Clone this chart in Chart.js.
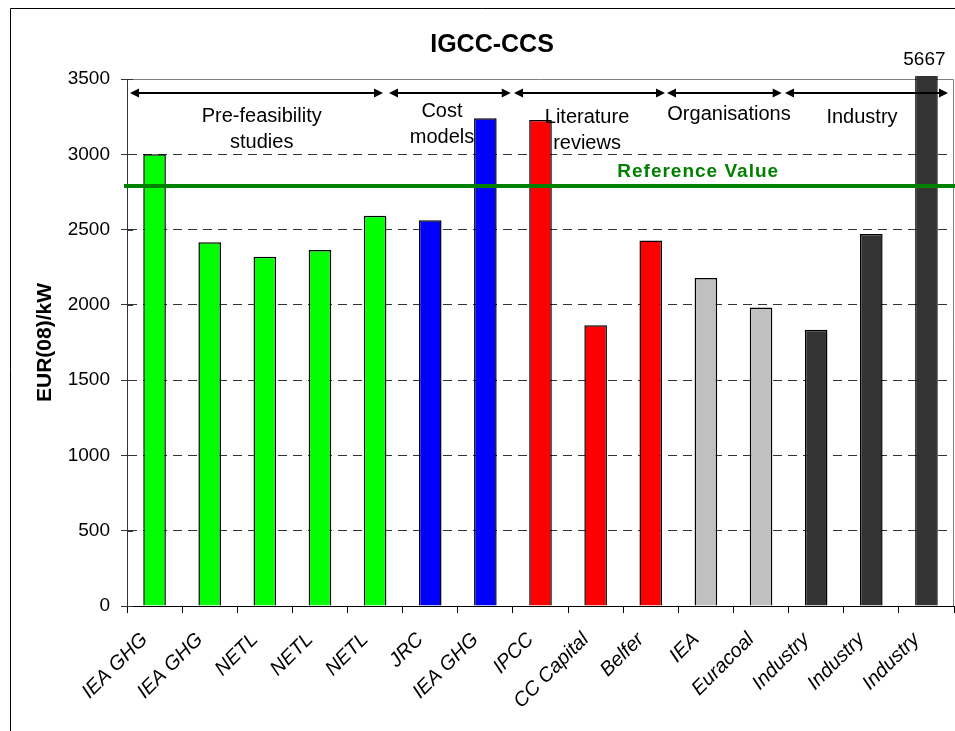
<!DOCTYPE html>
<html lang="en">
<head>
<meta charset="UTF-8">
<title>IGCC-CCS</title>
<script src="https://cdn.jsdelivr.net/npm/chart.js"></script>
<style>
  html, body { margin: 0; padding: 0; background: #fff; }
  #wrap { width: 955px; height: 731px; }
</style>
</head>
<body>
<div id="wrap"><canvas id="capexChart" width="955" height="731"></canvas></div>
<script>
const categories = ['IEA GHG', 'IEA GHG', 'NETL', 'NETL', 'NETL', 'JRC', 'IEA GHG', 'IPCC',
    'CC Capital', 'Belfer', 'IEA', 'Euracoal', 'Industry', 'Industry', 'Industry'];
const costs = [3000, 2415, 2320, 2365, 2592, 2562, 3240, 3228, 1865, 2427, 2178, 1982, 1834, 2470, 5667];
const sourceTypes = ['pre', 'pre', 'pre', 'pre', 'pre', 'model', 'model', 'lit', 'lit', 'lit',
    'org', 'org', 'ind', 'ind', 'ind'];
const referenceValue = 2790;
const yTicks = [0, 500, 1000, 1500, 2000, 2500, 3000, 3500];
const groupNames = [['Pre-feasibility', 'studies'], ['Cost', 'models'], ['Literature', 'reviews'],
    ['Organisations'], ['Industry']];

// colours per source type
const typeColors = { pre: '#00ff00', model: '#0000ff', lit: '#ff0000', org: '#c0c0c0', ind: '#333333' };

// where the group arrows and their captions sit (category index units / px below plot top)
const groupSpans = [[-0.446, 4.143], [4.252, 6.46], [6.519, 9.258], [9.295, 11.375], [11.435, 14.391]];
const groupLabelAt = [1.943, 5.213, 7.844, 10.419, 12.831];
const groupLabelTop = [37, 32, 38, 35, 38];
const refLabelAt = 9.86;

const FONT = '"Liberation Sans", Arial, sans-serif';

function arrowHead(ctx, x, y, dir) {
    ctx.beginPath();
    ctx.moveTo(x, y);
    ctx.lineTo(x - dir * 9, y - 4.5);
    ctx.lineTo(x - dir * 9, y + 4.5);
    ctx.closePath();
    ctx.fill();
}

const decorations = {
    id: 'decorations',
    beforeDatasetsDraw(chart) {
        const { ctx, chartArea } = chart;
        ctx.save();
        ctx.strokeStyle = '#808080';
        ctx.lineWidth = 1;
        ctx.beginPath();
        ctx.moveTo(chartArea.left, chartArea.top + 0.5);
        ctx.lineTo(chartArea.right - 0.5, chartArea.top + 0.5);
        ctx.lineTo(chartArea.right - 0.5, chartArea.bottom);
        ctx.stroke();
        // inner half of the y tick marks
        const y = chart.scales.y;
        ctx.strokeStyle = '#333';
        y.ticks.forEach(t => {
            const py = Math.round(y.getPixelForValue(t.value)) + 0.5;
            ctx.beginPath();
            ctx.moveTo(chartArea.left, py);
            ctx.lineTo(chartArea.left + 6, py);
            ctx.stroke();
        });
        ctx.restore();
    },
    afterDatasetsDraw(chart) {
        const { ctx, chartArea } = chart;
        const x = chart.scales.x, y = chart.scales.y;
        ctx.save();

        // reference value line
        const ry = y.getPixelForValue(referenceValue);
        ctx.strokeStyle = '#008000';
        ctx.lineWidth = 4;
        ctx.beginPath();
        ctx.moveTo(chartArea.left - 3, ry);
        ctx.lineTo(chart.width, ry);
        ctx.stroke();
        ctx.fillStyle = '#008000';
        ctx.font = 'bold 19px ' + FONT;
        ctx.letterSpacing = '1px';
        ctx.textAlign = 'center';
        ctx.textBaseline = 'middle';
        ctx.fillText('Reference Value', x.getPixelForValue(refLabelAt), ry - 14);
        ctx.letterSpacing = '0px';

        // group arrows + captions
        const ay = chartArea.top + 14;
        ctx.strokeStyle = '#000';
        ctx.fillStyle = '#000';
        ctx.lineWidth = 2;
        groupSpans.forEach((span, i) => {
            const x1 = x.getPixelForValue(span[0]);
            const x2 = x.getPixelForValue(span[1]);
            ctx.beginPath();
            ctx.moveTo(x1 + 4, ay);
            ctx.lineTo(x2 - 4, ay);
            ctx.stroke();
            arrowHead(ctx, x1, ay, -1);
            arrowHead(ctx, x2, ay, 1);

            ctx.font = '20px ' + FONT;
            const cx = x.getPixelForValue(groupLabelAt[i]);
            groupNames[i].forEach((line, j) => {
                ctx.fillText(line, cx, chartArea.top + groupLabelTop[i] + j * 26);
            });
        });

        // value of the bar that runs off the scale
        const last = costs.length - 1;
        if (costs[last] > y.max) {
            ctx.font = '19px ' + FONT;
            ctx.fillText(String(costs[last]), x.getPixelForValue(last) - 2, chartArea.top - 19);
        }

        // outer frame
        ctx.strokeStyle = '#000';
        ctx.lineWidth = 1;
        ctx.beginPath();
        ctx.moveTo(10.5, chart.height);
        ctx.lineTo(10.5, 8.5);
        ctx.lineTo(chart.width, 8.5);
        ctx.stroke();
        ctx.restore();
    }
};

const ctx = document.getElementById('capexChart').getContext('2d');
new Chart(ctx, {
    type: 'bar',
    data: {
        labels: categories,
        datasets: [{
            data: costs,
            backgroundColor: sourceTypes.map(t => typeColors[t]),
            borderColor: '#000',
            borderWidth: 1.5,
            categoryPercentage: 1,
            barPercentage: 0.41,
            clip: { left: 0, top: 3, right: 0, bottom: 0 }
        }]
    },
    options: {
        responsive: false,
        animation: false,
        layout: { padding: { left: 30, top: 30, right: 1, bottom: 0 } },
        plugins: {
            legend: { display: false },
            tooltip: { enabled: false },
            title: {
                display: true,
                text: 'IGCC-CCS',
                color: '#000',
                font: { family: FONT, size: 25, weight: 'bold', lineHeight: 1.2 },
                padding: { top: 0, bottom: 19 }
            }
        },
        scales: {
            x: {
                afterFit: s => { s.height = 125; s.paddingLeft = 0; s.paddingRight = 0; },
                grid: { drawOnChartArea: false, offset: true, tickLength: 7, tickColor: '#000' },
                border: { color: '#000', width: 1 },
                ticks: {
                    color: '#000',
                    font: { family: FONT, size: 20, style: 'italic' },
                    minRotation: 45,
                    maxRotation: 45,
                    autoSkip: false,
                    padding: 15,
                    labelOffset: -10
                }
            },
            y: {
                min: 0,
                max: 3500,
                afterFit: s => { s.width = 97; },
                afterBuildTicks: s => { s.ticks = yTicks.map(v => ({ value: v })); },
                grid: {
                    color: c => (c.tick.value === 0 || c.tick.value === 3500) ? 'rgba(0,0,0,0)' : '#333',
                    tickColor: '#333',
                    tickLength: 6,
                    lineWidth: 1
                },
                border: { color: '#333', width: 1, dash: [9, 6] },
                title: {
                    display: true,
                    text: 'EUR(08)/kW',
                    color: '#000',
                    font: { family: FONT, size: 21, weight: 'bold', lineHeight: 1.2 },
                    padding: { top: 2.4, bottom: 0 }
                },
                ticks: {
                    color: '#000',
                    font: { family: FONT, size: 19 },
                    padding: 11,
                    callback: v => String(v)
                }
            }
        }
    },
    plugins: [decorations]
});
</script>
</body>
</html>
